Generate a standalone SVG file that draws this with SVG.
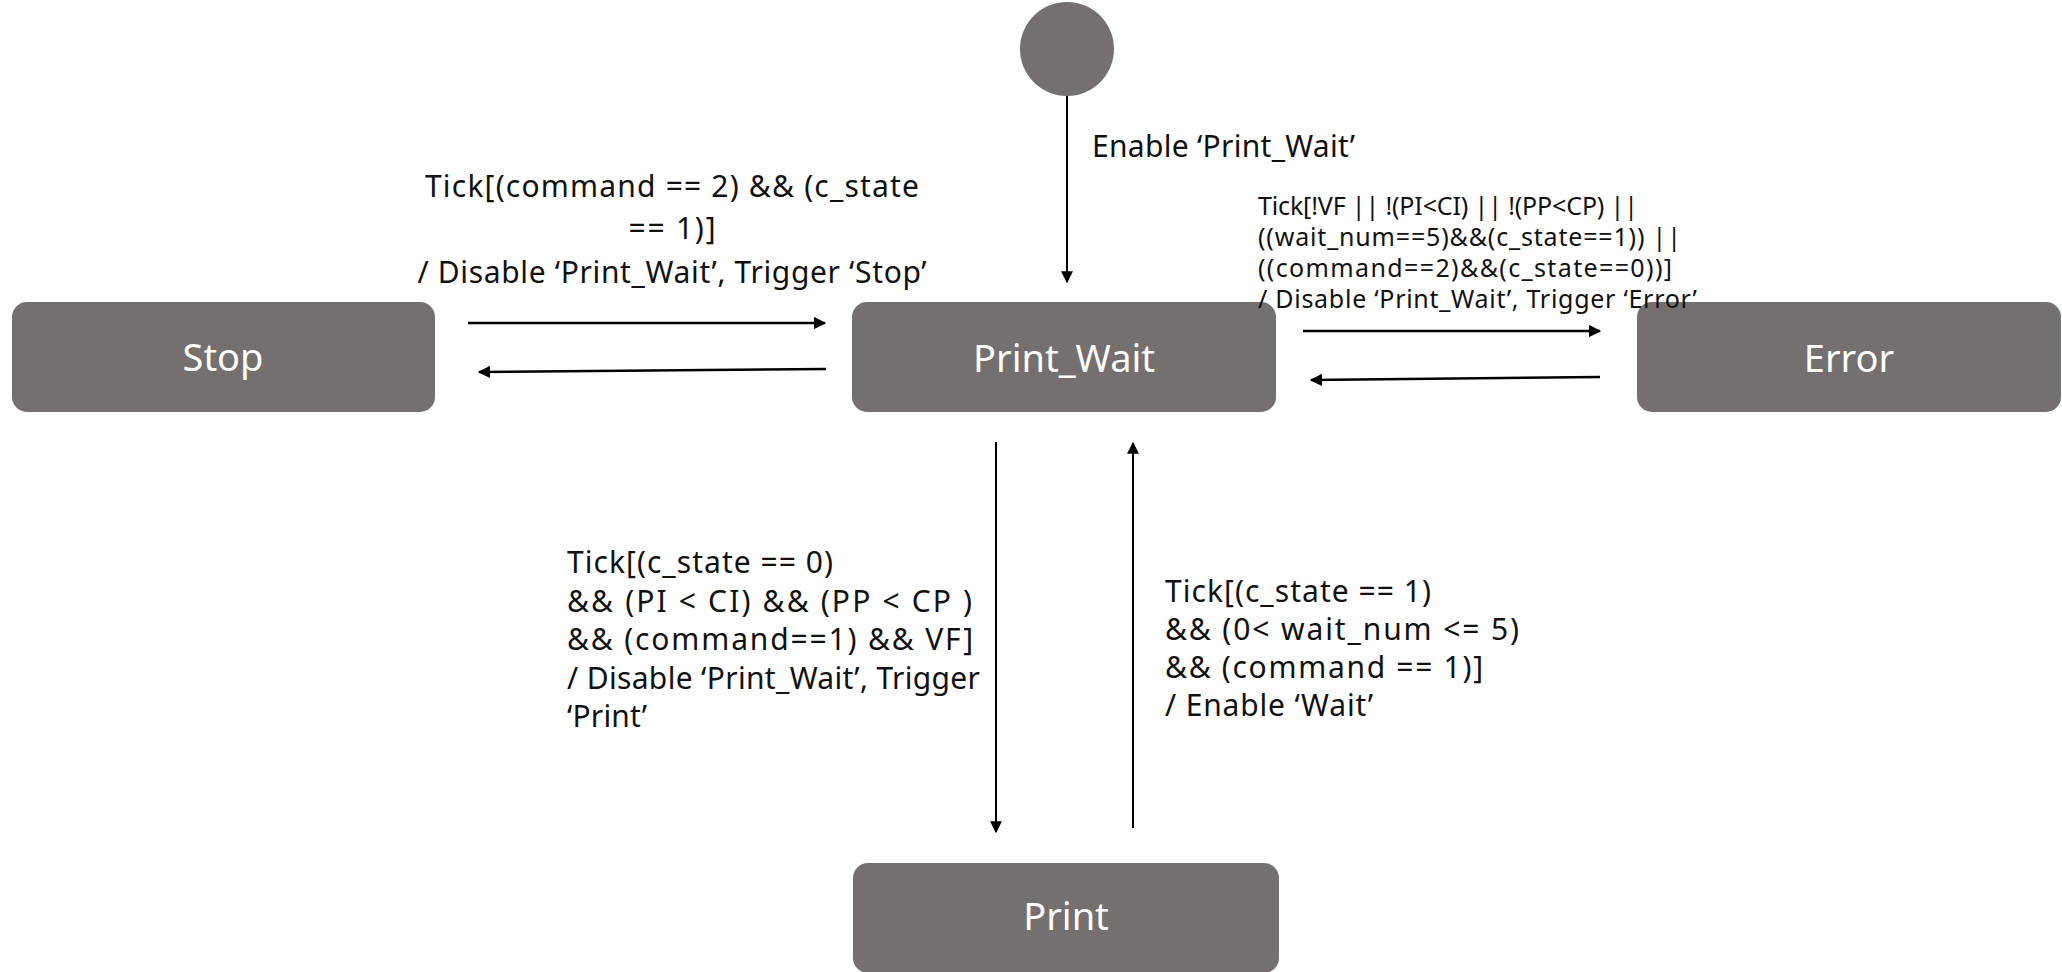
<svg xmlns="http://www.w3.org/2000/svg" width="2062" height="972" viewBox="0 0 2062 972">
<defs>
<style>
.node{fill:#74706f;}
.nlabel{font-family:"Noto Sans","Open Sans",sans-serif;font-size:38px;fill:#ffffff;text-anchor:middle;}
.lbl{font-family:"Noto Sans","Open Sans",sans-serif;font-size:30px;fill:#111111;}
.lbls{font-family:"Noto Sans","Open Sans",sans-serif;font-size:25px;fill:#111111;}
.edge{stroke:#000;stroke-width:2.5;fill:none;}
.edgev{stroke:#000;stroke-width:2;fill:none;}
</style>
<marker id="arr" viewBox="0 0 10 10" refX="9" refY="5" markerWidth="5" markerHeight="5" markerUnits="strokeWidth" orient="auto">
<path d="M0,0 L10,5 L0,10 z" fill="#000"/>
</marker>
<marker id="arrv" viewBox="0 0 10 10" refX="9" refY="5" markerWidth="6" markerHeight="6" markerUnits="strokeWidth" orient="auto">
<path d="M0,0 L10,5 L0,10 z" fill="#000"/>
</marker>
</defs>
<rect width="2062" height="972" fill="#ffffff"/>
<g id="start"><circle cx="1067" cy="49" r="47" class="node"/></g>
<g id="stop"><rect x="12" y="302" width="423" height="110" rx="15" class="node"/><text x="223" y="371" class="nlabel">Stop</text></g>
<g id="print_wait"><rect x="852" y="302" width="424" height="110" rx="15" class="node"/><text x="1064" y="372" class="nlabel">Print_Wait</text></g>
<g id="error"><rect x="1637" y="302" width="424" height="110" rx="15" class="node"/><text x="1849" y="372" class="nlabel">Error</text></g>
<g id="print"><rect x="853" y="863" width="426" height="110" rx="15" class="node"/><text x="1066" y="930" class="nlabel">Print</text></g>
<g id="connectors">
<line x1="1067" y1="96" x2="1067" y2="282" class="edgev" marker-end="url(#arrv)"/>
<line x1="468" y1="323" x2="825" y2="323" class="edge" marker-end="url(#arr)"/>
<line x1="826" y1="369" x2="479" y2="372" class="edge" marker-end="url(#arr)"/>
<line x1="1303" y1="331" x2="1600" y2="331" class="edge" marker-end="url(#arr)"/>
<line x1="1600" y1="377" x2="1311" y2="380" class="edge" marker-end="url(#arr)"/>
<line x1="996" y1="442" x2="996" y2="832" class="edgev" marker-end="url(#arrv)"/>
<line x1="1133" y1="828" x2="1133" y2="443" class="edgev" marker-end="url(#arrv)"/>
</g>
<g id="labels">
<text x="1092" y="157" class="lbl" textLength="263" lengthAdjust="spacing">Enable ‘Print_Wait’</text>
<text class="lbl" text-anchor="middle"><tspan x="672" y="197" textLength="494" lengthAdjust="spacing">Tick[(command == 2) &amp;&amp; (c_state</tspan><tspan x="672" y="239" textLength="87" lengthAdjust="spacing">== 1)]</tspan><tspan x="672" y="283" textLength="509" lengthAdjust="spacing">/ Disable ‘Print_Wait’, Trigger ‘Stop’</tspan></text>
<text class="lbls"><tspan x="1258" y="215" textLength="380" lengthAdjust="spacing">Tick[!VF || !(PI&lt;CI) || !(PP&lt;CP) ||</tspan><tspan x="1258" y="246" textLength="423" lengthAdjust="spacing">((wait_num==5)&amp;&amp;(c_state==1)) ||</tspan><tspan x="1258" y="277" textLength="414" lengthAdjust="spacing">((command==2)&amp;&amp;(c_state==0))]</tspan><tspan x="1258" y="308" textLength="439" lengthAdjust="spacing">/ Disable ‘Print_Wait’, Trigger ‘Error’</tspan></text>
<text class="lbl"><tspan x="567" y="573" textLength="266" lengthAdjust="spacing">Tick[(c_state == 0)</tspan><tspan x="567" y="612" textLength="405" lengthAdjust="spacing">&amp;&amp; (PI &lt; CI) &amp;&amp; (PP &lt; CP )</tspan><tspan x="567" y="650" textLength="406" lengthAdjust="spacing">&amp;&amp; (command==1) &amp;&amp; VF]</tspan><tspan x="567" y="689" textLength="413" lengthAdjust="spacing">/ Disable ‘Print_Wait’, Trigger</tspan><tspan x="567" y="727" textLength="80" lengthAdjust="spacing">‘Print’</tspan></text>
<text class="lbl"><tspan x="1165" y="602" textLength="266" lengthAdjust="spacing">Tick[(c_state == 1)</tspan><tspan x="1165" y="640" textLength="354" lengthAdjust="spacing">&amp;&amp; (0&lt; wait_num &lt;= 5)</tspan><tspan x="1165" y="678" textLength="318" lengthAdjust="spacing">&amp;&amp; (command == 1)]</tspan><tspan x="1165" y="716" textLength="208" lengthAdjust="spacing">/ Enable ‘Wait’</tspan></text>
</g>
</svg>
